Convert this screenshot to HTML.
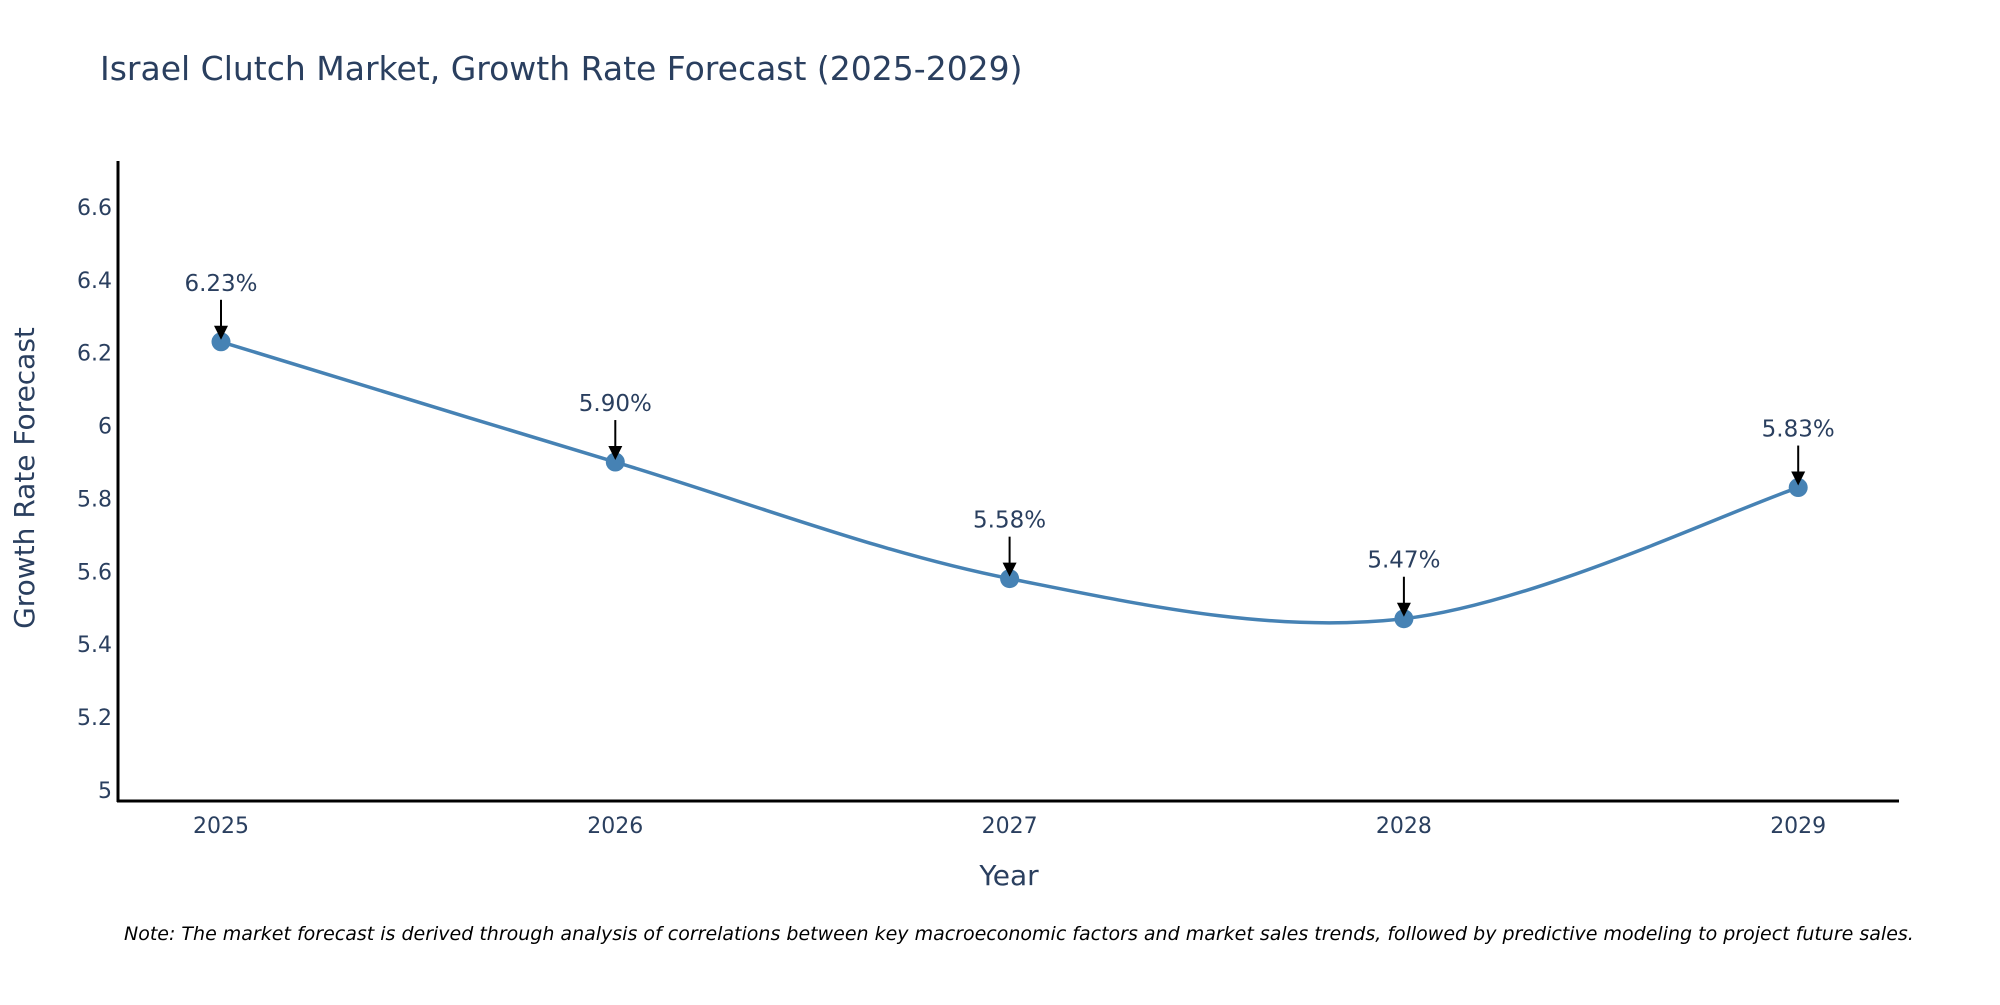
<!DOCTYPE html>
<html><head><meta charset="utf-8"><style>
body{margin:0;background:#fff;}
svg text{font-family:"DejaVu Sans","Liberation Sans",sans-serif;fill:#2a3f5f;}
</style></head><body>
<svg width="2000" height="1000" xmlns="http://www.w3.org/2000/svg">
<text x="100" y="80" font-size="33">Israel Clutch Market, Growth Rate Forecast (2025-2029)</text>
<g id="yticks"></g>
<g id="xticks"></g>
<line x1="118" y1="161" x2="118" y2="802" stroke="#000" stroke-width="3"/>
<line x1="117" y1="801" x2="1899" y2="801" stroke="#000" stroke-width="3"/>
<text transform="translate(34,478) rotate(-90)" text-anchor="middle" font-size="28">Growth Rate Forecast</text>
<text x="1009" y="885" text-anchor="middle" font-size="28">Year</text>
<g id="series"></g>
<text x="124" y="940" font-size="19" font-style="italic" fill="#000" style="fill:#000">Note: The market forecast is derived through analysis of correlations between key macroeconomic factors and market sales trends, followed by predictive modeling to project future sales.</text>
</svg>
<script>
const years=[2025,2026,2027,2028,2029];
const values=[6.23,5.90,5.58,5.47,5.83];
const labels=["6.23%","5.90%","5.58%","5.47%","5.83%"];
const yTicks=[5,5.2,5.4,5.6,5.8,6,6.2,6.4,6.6];
const yTickLabels=["5","5.2","5.4","5.6","5.8","6","6.2","6.4","6.6"];
const NS="http://www.w3.org/2000/svg";
function X(v){return 221+(v-2025)*394.3;}
function Y(v){return 790-(v-5)*364.4;}
function mk(t,a,p){const e=document.createElementNS(NS,t);for(const k in a)e.setAttribute(k,a[k]);p.appendChild(e);return e;}
const yg=document.getElementById('yticks'),xg=document.getElementById('xticks'),sg=document.getElementById('series');
yTicks.forEach((v,i)=>{const t=mk('text',{x:112,y:Y(v)+8,'text-anchor':'end','font-size':22},yg);t.textContent=yTickLabels[i];

});
years.forEach(v=>{const t=mk('text',{x:X(v),y:833,'text-anchor':'middle','font-size':22},xg);t.textContent=String(v);

});
const pts=years.map((y,i)=>[X(y),Y(values[i])]);
let d='M'+pts[0][0]+','+pts[0][1];const s=0.5/3*2;
for(let i=0;i<pts.length-1;i++){const p0=pts[i-1]||pts[i],p1=pts[i],p2=pts[i+1],p3=pts[i+2]||pts[i+1];
const c1=[p1[0]+(p2[0]-p0[0])*s/2,p1[1]+(p2[1]-p0[1])*s/2],c2=[p2[0]-(p3[0]-p1[0])*s/2,p2[1]-(p3[1]-p1[1])*s/2];
d+=' C'+c1+' '+c2+' '+p2;}
const path=mk('path',{d:d,fill:'none',stroke:'#4682b4','stroke-width':3.5},sg);


pts.forEach((p,i)=>{
const c=mk('circle',{cx:p[0],cy:p[1],r:9.5,fill:'#4682b4'},sg);


const l=mk('line',{x1:p[0],y1:p[1]-42,x2:p[0],y2:p[1]-14,stroke:'#000','stroke-width':2},sg);


const h=mk('polygon',{points:(p[0]-7)+','+(p[1]-16)+' '+(p[0]+7)+','+(p[1]-16)+' '+p[0]+','+(p[1]-2),fill:'#000'},sg);


const t=mk('text',{x:p[0],y:p[1]-51,'text-anchor':'middle','font-size':23},sg);t.textContent=labels[i];


});
</script>
</body></html>
